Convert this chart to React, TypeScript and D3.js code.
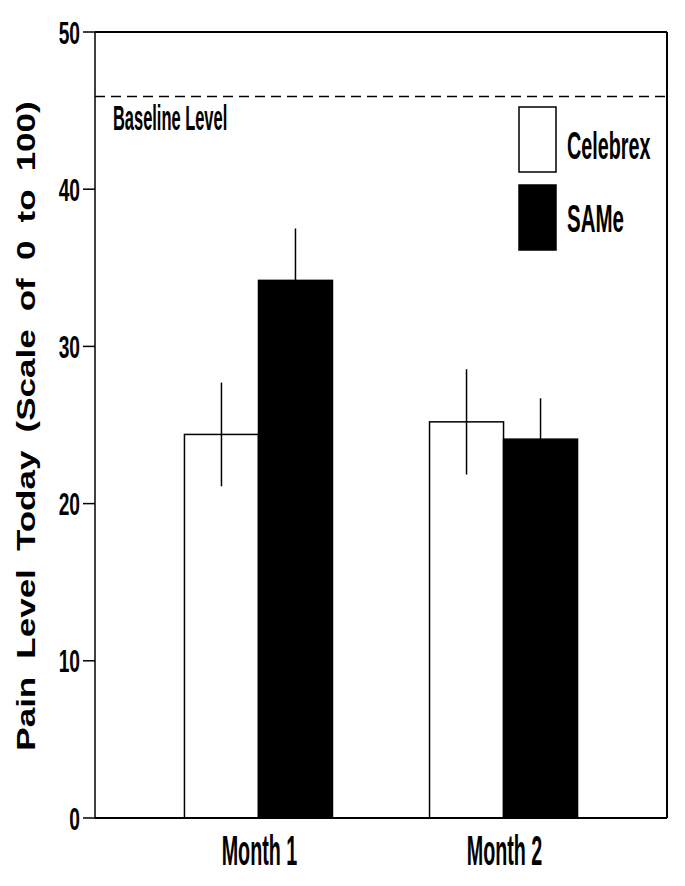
import React from "react";
import * as d3 from "d3";

const months = ["Month 1", "Month 2"];
const series = ["Celebrex", "SAMe"];
const celebrexMeans = [24.4, 25.2];
const celebrexErr = [3.3, 3.35];
const sameMeans = [34.2, 24.1];
const sameErr = [3.3, 2.6];
const yTicks = [0, 10, 20, 30, 40, 50];
const baselineLevel = 45.9;

const W = 685;
const H = 886;
const FONT = "'Liberation Sans', Arial, sans-serif";

export default function App() {
  const left = 95, right = 667, top = 32, bottom = 818;
  const y = d3.scaleLinear().domain([0, 50]).range([bottom, top]);
  const x0 = d3.scaleBand().domain(months).range([left, right]).paddingInner(0.396).paddingOuter(0.365);
  const x1 = d3.scaleBand().domain(series).range([0, x0.bandwidth()]);
  const means = [celebrexMeans, sameMeans];
  const errs = [celebrexErr, sameErr];
  const fills = ["#fff", "#000"];

  const bars: any[] = [];
  months.forEach((m, i) => {
    series.forEach((s, j) => {
      const bx = (x0(m) as number) + (x1(s) as number);
      const bw = x1.bandwidth();
      const v = means[j][i];
      const e = errs[j][i];
      bars.push(
        <g key={m + s}>
          <rect x={bx} y={y(v)} width={bw} height={y(0) - y(v)} fill={fills[j]} stroke="#000" strokeWidth={1.5} />
          <line x1={bx + bw / 2} x2={bx + bw / 2} y1={y(v + e)} y2={y(v - e)} stroke="#000" strokeWidth={1.5} />
        </g>
      );
    });
  });

  const htext = (key: string, tx: number, ty: number, txt: string, size: number, anchor: string, scale: number) => (
    <text key={key} transform={`translate(${tx},${ty}) scale(${scale},1)`} fontFamily={FONT} fontSize={size} fontWeight="bold" textAnchor={anchor} fill="#000">{txt}</text>
  );

  return (
    <svg width={W} height={H} style={{ position: "absolute", left: 0, top: 0, background: "#fff" }}>
      <rect x={0} y={0} width={W} height={H} fill="#fff" />
      {bars}
      {/* frame */}
      <line x1={left} x2={right} y1={top} y2={top} stroke="#000" strokeWidth={2} />
      <line x1={right} x2={right} y1={top} y2={bottom} stroke="#000" strokeWidth={2} />
      <line x1={left} x2={left} y1={top} y2={bottom} stroke="#000" strokeWidth={1.5} />
      <line x1={left} x2={right} y1={bottom} y2={bottom} stroke="#000" strokeWidth={2} />
      {/* baseline */}
      <line x1={left} x2={right} y1={y(baselineLevel)} y2={y(baselineLevel)} stroke="#000" strokeWidth={1.5} strokeDasharray="10,6" />
      {htext("bl", 113, 130, "Baseline  Level", 35, "start", 0.47)}
      {/* y ticks */}
      {yTicks.map((t) => (
        <g key={t}>
          <line x1={left - 12} x2={left} y1={y(t)} y2={y(t)} stroke="#000" strokeWidth={1.5} />
          {htext("t" + t, 80, y(t) + 11.5, String(t), 32, "end", 0.6)}
        </g>
      ))}
      {/* x labels */}
      {months.map((m) => htext("m" + m, (x0(m) as number) + x0.bandwidth() / 2 + 1, 865, m.replace(" ", "  "), 42, "middle", 0.47))}
      {/* legend */}
      <rect x={519} y={107} width={37} height={65} fill="#fff" stroke="#000" strokeWidth={1.5} />
      <rect x={519} y={185} width={37} height={65} fill="#000" stroke="#000" strokeWidth={1.5} />
      {htext("lc", 567, 159, series[0], 38, "start", 0.52)}
      {htext("ls", 567, 232, series[1], 38, "start", 0.54)}
      {/* y axis title */}
      <text transform={`translate(35,426) rotate(-90) scale(1.4,1)`} fontFamily={FONT} fontSize={25} fontWeight="bold" textAnchor="middle" wordSpacing={6} fill="#000">
        Pain Level Today (Scale of 0 to 100)
      </text>
    </svg>
  );
}
